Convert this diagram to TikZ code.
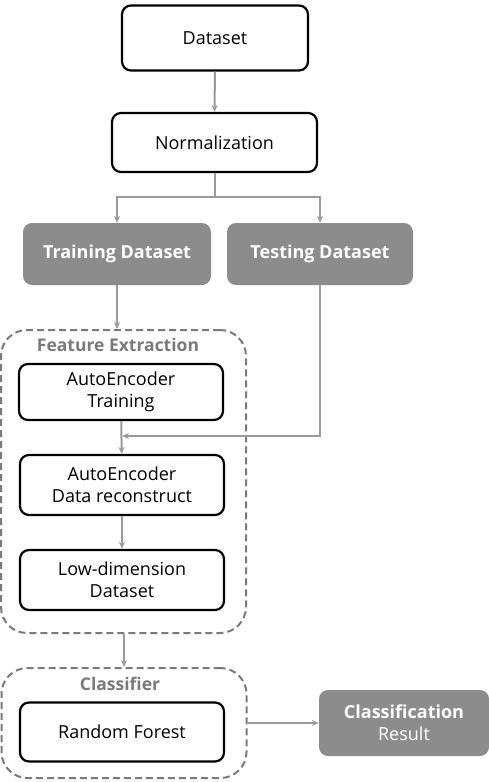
\documentclass[tikz,border=0pt]{standalone}
\usepackage{fontspec}
\setmainfont{Open Sans}
\usepackage{xcolor}
\usepackage{tikz}
\usetikzlibrary{shapes.geometric, arrows.meta, positioning}

\definecolor{linegrey}{HTML}{9A9A9A}
\definecolor{boxgrey}{HTML}{8C8C8C}
\definecolor{dashgrey}{HTML}{7A7A7A}

\begin{document}
\begin{tikzpicture}
	[
		x=1pt, y=-1pt,
		font=\fontsize{18}{22}\selectfont,
		box/.style={draw, line width=2.2pt, rounded corners=9pt, align=center, minimum width=204pt, inner sep=0pt},
		greybox/.style={fill=boxgrey, rounded corners=9pt, text=white, font=\fontsize{18}{22}\selectfont\bfseries, align=center, inner sep=0pt},
		group/.style={draw=dashgrey, dashed, dash pattern=on 7pt off 4pt, line width=2pt, rounded corners=26pt, minimum width=245pt, inner sep=0pt},
		grouplabel/.style={text=dashgrey, font=\fontsize{17.5}{21}\selectfont\bfseries},
		arrow/.style={draw=linegrey, line width=2pt, -{Stealth[length=7pt, width=6pt]}}
	]
	\useasboundingbox (0,0) rectangle (489,782);

	% groups
	\node[group, minimum height=303pt] (feature) at (123.5,481.5) {};
	\node[grouplabel] (featurelabel) at (118,345) {Feature Extraction};
	\node[group, minimum height=110pt] (classifier) at (124,723) {};
	\node[grouplabel] (classifierlabel) at (120,684) {Classifier};

	% boxes
	\node[box, minimum width=186pt, minimum height=65pt] (dataset) at (215,38) {Dataset};
	\node[box, minimum width=205pt, minimum height=59pt] (norm) at (214.5,142.5) {Normalization};
	\node[greybox, minimum width=188pt, minimum height=62pt] (train) at (117,254) {Training Dataset};
	\node[greybox, minimum width=186pt, minimum height=62pt] (test) at (320,254) {Testing Dataset};
	\node[box, minimum height=56pt] (aetrain) at (121,392) {AutoEncoder\\Training};
	\node[box, minimum height=60pt] (aerec) at (122,485) {AutoEncoder\\Data reconstruct};
	\node[box, minimum height=60pt] (lowdim) at (122,580) {Low-dimension\\Dataset};
	\node[box, minimum height=59pt] (rf) at (122,732) {Random Forest};
	\node[greybox, minimum width=170pt, minimum height=66pt, font=\fontsize{18}{22}\selectfont] (result) at (404,723) {\textbf{Classification}\\Result};

	% connectors
	\coordinate (split) at (214.5,197);
	\coordinate (join) at (122,436);
	\draw[arrow] (dataset) -- (norm);
	\draw[draw=linegrey, line width=2pt] (norm.south) -- (split);
	\draw[arrow] (split) -| (train.north);
	\draw[arrow] (split) -| (test.north);
	\draw[arrow] (train.south) -- (train.south |- feature.north);
	\draw[arrow] (aetrain) -- (aerec);
	\draw[arrow] (test.south) |- (join);
	\draw[arrow] (aerec) -- (lowdim);
	\draw[arrow] (feature.south -| classifier.north) -- (classifier.north);
	\draw[arrow] (classifier.east |- result.west) -- (result.west);
\end{tikzpicture}
\end{document}
